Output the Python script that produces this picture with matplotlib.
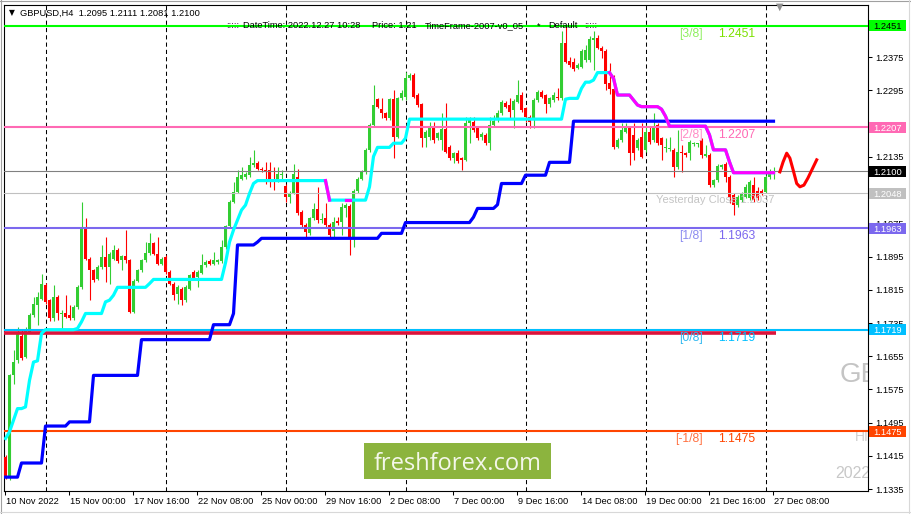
import numpy as np
import matplotlib
matplotlib.use("Agg")
import matplotlib.pyplot as plt
from matplotlib.patches import Rectangle
from matplotlib.lines import Line2D
from matplotlib.transforms import blended_transform_factory, ScaledTranslation

plt.rcParams['font.family'] = ['Liberation Sans', 'DejaVu Sans']

# ---- GBPUSD H4 bars, 10 Nov 2022 08:00 -> 27 Dec 2022 08:00 ----
opens = [
    1.1413, 1.1364, 1.1609, 1.1646, 1.1703, 1.1654, 1.1714, 1.1754, 1.1778, 1.1794,
    1.1826, 1.1790, 1.1746, 1.1798, 1.1756, 1.1758, 1.1754, 1.1746, 1.1774, 1.1822,
    1.1963, 1.1890, 1.1862, 1.1842, 1.1870, 1.1894, 1.1870, 1.1890, 1.1912, 1.1886,
    1.1896, 1.1886, 1.1762, 1.1837, 1.1862, 1.1886, 1.1904, 1.1927, 1.1902, 1.1878,
    1.1894, 1.1858, 1.1830, 1.1806, 1.1818, 1.1790, 1.1818, 1.1858, 1.1845, 1.1856,
    1.1874, 1.1885, 1.1878, 1.1882, 1.1885, 1.1917, 1.1968, 1.2027, 1.2051, 1.2083,
    1.2087, 1.2091, 1.2115, 1.2121, 1.2107, 1.2103, 1.2103, 1.2079, 1.2079, 1.2091,
    1.2065, 1.2038, 1.2049, 1.2087, 1.2003, 1.1971, 1.1951, 1.1987, 1.2009, 1.1983,
    1.1987, 1.1971, 1.1957, 1.1981, 1.1979, 1.2011, 1.2017, 1.1943, 1.2053, 1.2083,
    1.2099, 1.2152, 1.2212, 1.2274, 1.2250, 1.2240, 1.2228, 1.2274, 1.2184, 1.2276,
    1.2280, 1.2324, 1.2332, 1.2284, 1.2262, 1.2180, 1.2184, 1.2206, 1.2180, 1.2176,
    1.2202, 1.2160, 1.2132, 1.2144, 1.2132, 1.2128, 1.2216, 1.2220, 1.2204, 1.2184,
    1.2188, 1.2168, 1.2212, 1.2224, 1.2240, 1.2266, 1.2260, 1.2248, 1.2268, 1.2284,
    1.2252, 1.2232, 1.2228, 1.2272, 1.2292, 1.2283, 1.2262, 1.2272, 1.2280, 1.2276,
    1.2409, 1.2366, 1.2364, 1.2350, 1.2352, 1.2368, 1.2368, 1.2417, 1.2421, 1.2398,
    1.2390, 1.2312, 1.2298, 1.2160, 1.2176, 1.2196, 1.2204, 1.2188, 1.2156, 1.2184,
    1.2152, 1.2196, 1.2176, 1.2212, 1.2180, 1.2156, 1.2154, 1.2152, 1.2111, 1.2148,
    1.2144, 1.2144, 1.2166, 1.2166, 1.2176, 1.2138, 1.2140, 1.2067, 1.2079, 1.2111,
    1.2119, 1.2087, 1.2043, 1.2019, 1.2031, 1.2039, 1.2035, 1.2067, 1.2054, 1.2054,
    1.2051, 1.2087, 1.2095,
]
highs = [
    1.1418, 1.1612, 1.1670, 1.1726, 1.1718, 1.1726, 1.1758, 1.1798, 1.1810, 1.1854,
    1.1832, 1.1794, 1.1826, 1.1802, 1.1766, 1.1802, 1.1778, 1.1778, 1.1826, 1.2027,
    1.1987, 1.1894, 1.1866, 1.1874, 1.1923, 1.1943, 1.1906, 1.1923, 1.1916, 1.1900,
    1.1959, 1.1890, 1.1840, 1.1866, 1.1890, 1.1931, 1.1951, 1.1931, 1.1943, 1.1894,
    1.1898, 1.1862, 1.1834, 1.1826, 1.1822, 1.1826, 1.1854, 1.1862, 1.1862, 1.1902,
    1.1886, 1.1890, 1.1906, 1.1890, 1.1935, 1.1972, 1.2031, 1.2075, 1.2103, 1.2111,
    1.2099, 1.2135, 1.2152, 1.2125, 1.2111, 1.2123, 1.2123, 1.2111, 1.2111, 1.2103,
    1.2069, 1.2053, 1.2119, 1.2107, 1.2007, 1.1975, 1.1991, 1.2023, 1.2063, 1.1999,
    1.2023, 1.1975, 1.1991, 1.1991, 1.2023, 1.2023, 1.2021, 1.2057, 1.2087, 1.2103,
    1.2156, 1.2216, 1.2308, 1.2278, 1.2276, 1.2244, 1.2278, 1.2296, 1.2280, 1.2296,
    1.2340, 1.2336, 1.2336, 1.2288, 1.2266, 1.2200, 1.2220, 1.2220, 1.2196, 1.2240,
    1.2266, 1.2164, 1.2148, 1.2152, 1.2136, 1.2232, 1.2230, 1.2232, 1.2208, 1.2196,
    1.2192, 1.2232, 1.2236, 1.2248, 1.2272, 1.2270, 1.2276, 1.2274, 1.2320, 1.2292,
    1.2256, 1.2236, 1.2276, 1.2296, 1.2296, 1.2286, 1.2280, 1.2292, 1.2300, 1.2437,
    1.2453, 1.2376, 1.2372, 1.2360, 1.2394, 1.2405, 1.2425, 1.2437, 1.2429, 1.2402,
    1.2394, 1.2360, 1.2332, 1.2180, 1.2216, 1.2216, 1.2208, 1.2216, 1.2180, 1.2216,
    1.2212, 1.2208, 1.2240, 1.2216, 1.2184, 1.2180, 1.2184, 1.2156, 1.2200, 1.2164,
    1.2148, 1.2176, 1.2172, 1.2168, 1.2180, 1.2164, 1.2144, 1.2083, 1.2117, 1.2119,
    1.2123, 1.2091, 1.2047, 1.2043, 1.2051, 1.2071, 1.2079, 1.2087, 1.2063, 1.2058,
    1.2091, 1.2105, 1.2111,
]
lows = [
    1.1360, 1.1358, 1.1589, 1.1640, 1.1646, 1.1650, 1.1710, 1.1750, 1.1730, 1.1790,
    1.1780, 1.1740, 1.1740, 1.1742, 1.1718, 1.1746, 1.1742, 1.1742, 1.1770, 1.1818,
    1.1886, 1.1790, 1.1834, 1.1838, 1.1866, 1.1834, 1.1830, 1.1886, 1.1880, 1.1862,
    1.1880, 1.1758, 1.1758, 1.1834, 1.1858, 1.1882, 1.1900, 1.1898, 1.1874, 1.1874,
    1.1854, 1.1826, 1.1790, 1.1782, 1.1778, 1.1786, 1.1814, 1.1838, 1.1822, 1.1852,
    1.1870, 1.1874, 1.1874, 1.1878, 1.1880, 1.1913, 1.1964, 1.2023, 1.2047, 1.2079,
    1.2083, 1.2087, 1.2111, 1.2103, 1.2099, 1.2071, 1.2063, 1.2055, 1.2075, 1.2079,
    1.2027, 1.2023, 1.2045, 1.1995, 1.1965, 1.1943, 1.1947, 1.1983, 1.1975, 1.1975,
    1.1967, 1.1943, 1.1941, 1.1970, 1.1947, 1.1991, 1.1899, 1.1919, 1.2049, 1.2079,
    1.2095, 1.2148, 1.2208, 1.2252, 1.2228, 1.2224, 1.2224, 1.2132, 1.2180, 1.2272,
    1.2272, 1.2320, 1.2276, 1.2256, 1.2160, 1.2160, 1.2176, 1.2168, 1.2176, 1.2152,
    1.2144, 1.2128, 1.2120, 1.2120, 1.2104, 1.2124, 1.2168, 1.2196, 1.2176, 1.2176,
    1.2164, 1.2152, 1.2208, 1.2220, 1.2236, 1.2252, 1.2228, 1.2204, 1.2264, 1.2244,
    1.2220, 1.2204, 1.2204, 1.2268, 1.2276, 1.2240, 1.2256, 1.2268, 1.2272, 1.2272,
    1.2360, 1.2352, 1.2343, 1.2346, 1.2348, 1.2364, 1.2364, 1.2344, 1.2394, 1.2374,
    1.2295, 1.2287, 1.2154, 1.2156, 1.2172, 1.2192, 1.2115, 1.2127, 1.2152, 1.2132,
    1.2148, 1.2166, 1.2172, 1.2164, 1.2127, 1.2148, 1.2150, 1.2087, 1.2107, 1.2099,
    1.2136, 1.2127, 1.2162, 1.2160, 1.2132, 1.2134, 1.2063, 1.2063, 1.2075, 1.2107,
    1.2075, 1.2023, 1.1995, 1.2015, 1.2027, 1.2035, 1.2031, 1.2027, 1.2031, 1.2043,
    1.2047, 1.2083, 1.2081,
]
closes = [
    1.1364, 1.1609, 1.1641, 1.1710, 1.1650, 1.1718, 1.1754, 1.1782, 1.1798, 1.1830,
    1.1786, 1.1746, 1.1798, 1.1758, 1.1757, 1.1750, 1.1746, 1.1774, 1.1822, 1.1963,
    1.1890, 1.1862, 1.1838, 1.1870, 1.1894, 1.1870, 1.1902, 1.1912, 1.1885, 1.1896,
    1.1886, 1.1762, 1.1837, 1.1862, 1.1886, 1.1904, 1.1927, 1.1902, 1.1878, 1.1890,
    1.1858, 1.1830, 1.1802, 1.1822, 1.1790, 1.1822, 1.1850, 1.1842, 1.1858, 1.1874,
    1.1882, 1.1878, 1.1886, 1.1886, 1.1917, 1.1968, 1.2027, 1.2051, 1.2087, 1.2091,
    1.2095, 1.2115, 1.2121, 1.2107, 1.2103, 1.2099, 1.2079, 1.2075, 1.2095, 1.2092,
    1.2038, 1.2049, 1.2095, 1.1999, 1.1971, 1.1955, 1.1987, 1.2009, 1.1983, 1.1985,
    1.1971, 1.1947, 1.1979, 1.1975, 1.2015, 1.2019, 1.1943, 1.2053, 1.2083, 1.2099,
    1.2152, 1.2212, 1.2260, 1.2256, 1.2240, 1.2228, 1.2274, 1.2184, 1.2276, 1.2288,
    1.2324, 1.2332, 1.2280, 1.2260, 1.2180, 1.2196, 1.2208, 1.2176, 1.2192, 1.2202,
    1.2148, 1.2132, 1.2144, 1.2124, 1.2128, 1.2216, 1.2226, 1.2200, 1.2180, 1.2190,
    1.2168, 1.2212, 1.2222, 1.2240, 1.2268, 1.2256, 1.2243, 1.2270, 1.2284, 1.2248,
    1.2232, 1.2220, 1.2272, 1.2292, 1.2280, 1.2262, 1.2276, 1.2283, 1.2276, 1.2409,
    1.2364, 1.2356, 1.2347, 1.2356, 1.2390, 1.2393, 1.2419, 1.2421, 1.2398, 1.2390,
    1.2310, 1.2298, 1.2158, 1.2176, 1.2200, 1.2204, 1.2144, 1.2144, 1.2176, 1.2136,
    1.2196, 1.2170, 1.2208, 1.2168, 1.2164, 1.2160, 1.2157, 1.2111, 1.2148, 1.2144,
    1.2140, 1.2172, 1.2168, 1.2167, 1.2140, 1.2141, 1.2067, 1.2079, 1.2113, 1.2115,
    1.2087, 1.2039, 1.2019, 1.2039, 1.2047, 1.2063, 1.2075, 1.2031, 1.2035, 1.2047,
    1.2087, 1.2099, 1.2100,
]

# fast trailing line (cyan in uptrend, magenta in downtrend)
trail = [
    1.1457, 1.1473, 1.1501, 1.1529, 1.1529, 1.1533, 1.1597, 1.1641, 1.1644, 1.1710,
    1.1719, 1.1719, 1.1719, 1.1719, 1.1719, 1.1719, 1.1719, 1.1719, 1.1722, 1.1738,
    1.1758, 1.1758, 1.1758, 1.1758, 1.1758, 1.1786, 1.1790, 1.1802, 1.1821, 1.1821,
    1.1821, 1.1821, 1.1821, 1.1821, 1.1821, 1.1821, 1.1830, 1.1840, 1.1840, 1.1840,
    1.1840, 1.1840, 1.1840, 1.1840, 1.1840, 1.1840, 1.1840, 1.1840, 1.1840, 1.1840,
    1.1840, 1.1840, 1.1840, 1.1840, 1.1840, 1.1880, 1.1930, 1.1959, 1.1983, 1.2007,
    1.2019, 1.2047, 1.2071, 1.2078, 1.2078, 1.2078, 1.2078, 1.2078, 1.2078, 1.2078,
    1.2078, 1.2078, 1.2078, 1.2078, 1.2078, 1.2078, 1.2078, 1.2078, 1.2078, 1.2078,
    1.2078, 1.2031, 1.2031, 1.2031, 1.2031, 1.2031, 1.2031, 1.2031, 1.2031, 1.2031,
    1.2031, 1.2063, 1.2136, 1.2158, 1.2158, 1.2158, 1.2158, 1.2168, 1.2168, 1.2168,
    1.2180, 1.2226, 1.2226, 1.2226, 1.2226, 1.2226, 1.2226, 1.2226, 1.2226, 1.2226,
    1.2226, 1.2226, 1.2226, 1.2226, 1.2226, 1.2226, 1.2226, 1.2226, 1.2226, 1.2226,
    1.2226, 1.2226, 1.2226, 1.2226, 1.2226, 1.2226, 1.2226, 1.2226, 1.2226, 1.2226,
    1.2226, 1.2226, 1.2226, 1.2226, 1.2226, 1.2226, 1.2226, 1.2226, 1.2226, 1.2226,
    1.2274, 1.2276, 1.2276, 1.2276, 1.2300, 1.2315, 1.2315, 1.2320, 1.2338, 1.2338,
    1.2338, 1.2338, 1.2324, 1.2284, 1.2284, 1.2284, 1.2284, 1.2272, 1.2260, 1.2256,
    1.2256, 1.2256, 1.2256, 1.2256, 1.2250, 1.2233, 1.2209, 1.2209, 1.2209, 1.2209,
    1.2209, 1.2209, 1.2209, 1.2209, 1.2209, 1.2209, 1.2188, 1.2152, 1.2152, 1.2152,
    1.2152, 1.2123, 1.2097, 1.2097, 1.2097, 1.2097, 1.2097, 1.2097, 1.2097, 1.2097,
    1.2097, 1.2097, 1.2097,
]
trail_down_spans = [(80, 81), (85, 86), (151, 192)]

# slow trailing line (blue)
slow_trail = [
    1.1364, 1.1364, 1.1364, 1.1364, 1.1398, 1.1398, 1.1398, 1.1398, 1.1398, 1.1398,
    1.1487, 1.1487, 1.1487, 1.1487, 1.1487, 1.1487, 1.1497, 1.1497, 1.1497, 1.1497,
    1.1497, 1.1497, 1.1609, 1.1609, 1.1609, 1.1609, 1.1609, 1.1609, 1.1609, 1.1609,
    1.1609, 1.1609, 1.1609, 1.1609, 1.1695, 1.1695, 1.1695, 1.1695, 1.1695, 1.1695,
    1.1695, 1.1695, 1.1695, 1.1695, 1.1695, 1.1695, 1.1695, 1.1695, 1.1695, 1.1695,
    1.1695, 1.1695, 1.1731, 1.1731, 1.1731, 1.1731, 1.1731, 1.1758, 1.1923, 1.1923,
    1.1923, 1.1923, 1.1923, 1.1930, 1.1939, 1.1939, 1.1939, 1.1939, 1.1939, 1.1939,
    1.1939, 1.1939, 1.1939, 1.1939, 1.1939, 1.1939, 1.1939, 1.1939, 1.1939, 1.1939,
    1.1939, 1.1939, 1.1939, 1.1939, 1.1939, 1.1939, 1.1939, 1.1939, 1.1939, 1.1939,
    1.1939, 1.1939, 1.1939, 1.1939, 1.1951, 1.1951, 1.1951, 1.1951, 1.1951, 1.1951,
    1.1977, 1.1977, 1.1977, 1.1977, 1.1977, 1.1977, 1.1977, 1.1977, 1.1977, 1.1977,
    1.1977, 1.1977, 1.1977, 1.1977, 1.1977, 1.1977, 1.1977, 1.1990, 1.2011, 1.2011,
    1.2011, 1.2011, 1.2011, 1.2020, 1.2071, 1.2071, 1.2071, 1.2071, 1.2071, 1.2071,
    1.2091, 1.2091, 1.2091, 1.2091, 1.2091, 1.2091, 1.2122, 1.2122, 1.2122, 1.2122,
    1.2122, 1.2122, 1.2221, 1.2221, 1.2221, 1.2221, 1.2221, 1.2221, 1.2221, 1.2221,
    1.2221, 1.2221, 1.2221, 1.2221, 1.2221, 1.2221, 1.2221, 1.2221, 1.2221, 1.2221,
    1.2221, 1.2221, 1.2221, 1.2221, 1.2221, 1.2221, 1.2221, 1.2221, 1.2221, 1.2221,
    1.2221, 1.2221, 1.2221, 1.2221, 1.2221, 1.2221, 1.2221, 1.2221, 1.2221, 1.2221,
    1.2221, 1.2221, 1.2221, 1.2221, 1.2221, 1.2221, 1.2221, 1.2221, 1.2221, 1.2221,
    1.2221, 1.2221, 1.2221,
]

# projected wave after the last bar
wave_x = [193.6, 194.4, 195.3, 196.1, 196.9, 197.8, 198.6, 199.6, 200.6, 201.6, 202.8]
wave_y = [1.2099, 1.2123, 1.2144, 1.2132, 1.2104, 1.2071, 1.2063, 1.2067, 1.2084, 1.2104, 1.2128]

# Murrey levels
level_names = ['[3/8]', '[2/8]', '[1/8]', '[0/8]', '[-1/8]']
level_prices = [1.2451, 1.2207, 1.1963, 1.1719, 1.1475]
level_colors = ['#00FF00', '#FF69B4', '#7B68EE', '#00BFFF', '#FF4500']
level_name_colors = ['#8FEF60', '#FF8CC6', '#8C8CF0', '#30B8F0', '#FF7040']
level_text_colors = ['#7CE000', '#FF69B4', '#7B68EE', '#00BFFF', '#FF4500']
crimson_level = 1.1710
current_price = 1.2100
yesterday_close_line = 1.2048

price_ticks = [1.1335, 1.1415, 1.1495, 1.1575, 1.1655, 1.1735, 1.1815, 1.1895,
               1.1975, 1.2055, 1.2135, 1.2215, 1.2295, 1.2375, 1.2455]
hidden_tick_labels = [1.2055, 1.2215, 1.2455]   # fully covered by the price boxes
date_tick_bars = [0, 16, 32, 48, 64, 80, 96, 112, 128, 144, 160, 176, 192]
date_tick_labels = ['10 Nov 2022', '15 Nov 00:00', '17 Nov 16:00', '22 Nov 08:00',
                    '25 Nov 00:00', '29 Nov 16:00', '2 Dec 08:00', '7 Dec 00:00',
                    '9 Dec 16:00', '14 Dec 08:00', '19 Dec 00:00', '21 Dec 16:00',
                    '27 Dec 08:00']
week_start_bars = [10, 40, 70, 100, 130, 160, 190]

# ---- figure ----
W, H = 911, 514
fig = plt.figure(figsize=(W / 100, H / 100), dpi=100)
fig.patch.set_facecolor('white')
ax = fig.add_axes([4 / W, 1 - 491 / H, 864 / W, (491 - 4.5) / H])
ax.set_xlim(-0.375, 215.625)
ax.set_ylim(1.13306, 1.25020)

def px_to_bar(px):
    return (px - 5.5) / 4.0

idx = np.arange(len(closes))
o = np.array(opens); c = np.array(closes)
hi = np.array(highs); lo = np.array(lows)
up = c >= o
col = np.where(up, '#32CD32', '#FF0000')

# week separators
for b in week_start_bars:
    ax.axvline(b, color='black', lw=0.75, ls=(0, (4, 3)), zorder=1)

# candles
ax.vlines(idx, lo, hi, colors=col, lw=0.8, zorder=3)
body_h = np.maximum(np.abs(c - o), 0.00026)
ax.bar(idx, body_h, bottom=np.minimum(o, c), width=0.75, color=col, lw=0, zorder=3)

# horizontal levels
for p, lc in zip(level_prices, level_colors):
    ax.axhline(p, color=lc, lw=1.5, zorder=4)
ax.axhline(current_price, color='#808080', lw=0.8, zorder=4)
ax.axhline(yesterday_close_line, color='#C0C0C0', lw=0.8, zorder=4)
ax.hlines(crimson_level, ax.get_xlim()[0], idx[-1] + 0.5, color='#DC143C', lw=2.6, zorder=4)

# trailing lines
ax.plot(idx, slow_trail, color='#0000FF', lw=2.3, zorder=5)
ax.plot(idx, trail, color='#00FFFF', lw=2.3, zorder=5)
for a, b in trail_down_spans:
    ax.plot(idx[a:b + 1], trail[a:b + 1], color='#FF00FF', lw=2.3, zorder=6)
ax.plot(wave_x, wave_y, color='#FF0000', lw=2.2, zorder=6, clip_on=False)

# level captions
for name, p, nc, tc in zip(level_names, level_prices, level_name_colors, level_text_colors):
    ax.annotate(name, xy=(px_to_bar(703), p), xytext=(0, -5.8), textcoords='offset points',
                ha='right', va='center', fontsize=8.7, color=nc, zorder=7)
    ax.annotate(f'{p:.4f}', xy=(px_to_bar(718), p), xytext=(0, -5.8), textcoords='offset points',
                ha='left', va='center', fontsize=8.7, color=tc, zorder=7)
ax.annotate('Yesterday Close 1.2037', xy=(px_to_bar(656), yesterday_close_line), xytext=(0, -5.2),
            textcoords='offset points', ha='left', va='center', fontsize=8, color='#C4C4C4', zorder=7)

# watermark (clipped by the price axis)
ax.text(px_to_bar(840), 1.1610, 'GBPUSD,H4', fontsize=20, color='#C4C4C4', va='center', ha='left',
        zorder=0.5, clip_on=True)
ax.text(px_to_bar(855), 1.1461, 'HI', fontsize=10, color='#D0D0D0', va='center', ha='left',
        zorder=0.5, clip_on=True)
ax.text(px_to_bar(835), 1.1372, '2022.12.27', fontsize=11.5, color='#C8C8C8', va='center', ha='left',
        zorder=0.5, clip_on=True)

# axes styling
for s in ax.spines.values():
    s.set_color('black'); s.set_linewidth(0.8)
ax.yaxis.tick_right()
ax.set_yticks(price_ticks, ['' if t in hidden_tick_labels else f'{t:.4f}' for t in price_ticks])
ax.tick_params(axis='y', direction='out', length=3, width=0.75, pad=2.5, labelsize=6.7, colors='black')
ax.set_xticks(np.array(date_tick_bars) - 0.125, date_tick_labels)
ax.tick_params(axis='x', direction='out', length=3, width=0.75, pad=1.5, labelsize=6.7, colors='black')
shift = ScaledTranslation(1.5 / 100, 0, fig.dpi_scale_trans)
for lab in ax.get_xticklabels():
    lab.set_ha('left')
    lab.set_transform(lab.get_transform() + shift)

# price boxes on the right axis
blend = blended_transform_factory(fig.transFigure, ax.transData)
box_h = 11 * (1.25020 - 1.13306) / 486.5
boxes = [(level_prices[0], '#00FF00', 'black'), (level_prices[1], '#FF69B4', 'white'),
         (current_price, 'black', 'white'), (yesterday_close_line, '#C0C0C0', 'white'),
         (level_prices[2], '#7B68EE', 'white'), (level_prices[3], '#00BFFF', 'white'),
         (level_prices[4], '#FF4500', 'white')]
for p, bg, fg in boxes:
    fig.add_artist(Rectangle((869 / W, p - box_h / 2), 37 / W, box_h, transform=blend,
                             facecolor=bg, edgecolor='none', zorder=10))
    fig.text(887.5 / W, p, f'{p:.4f}', transform=blend, ha='center', va='center_baseline',
             fontsize=6.7, color=fg, zorder=11)

# header lines
fig.text(9 / W, 1 - 13 / H, '\u25bc', family='DejaVu Sans', fontsize=5.5, va='center', color='black')
fig.text(20 / W, 1 - 13 / H, 'GBPUSD,H4  1.2095 1.2111 1.2081 1.2100', fontsize=6.7, va='center', color='black')
fig.text(226 / W, 1 - 26 / H, ':::::', fontsize=6.7, va='center', color='#400040', zorder=12)
fig.text(243 / W, 1 - 26 / H, 'DateTime: 2022.12.27 10:28', fontsize=6.7, va='center', color='black', zorder=12)
fig.text(372 / W, 1 - 26 / H, 'Price: 1.21', fontsize=6.7, va='center', color='black', zorder=12)
fig.text(425 / W, 1 - 26 / H, 'TimeFrame-2007-v0_05', fontsize=6.7, va='center', color='black', zorder=12)
fig.text(537 / W, 1 - 26 / H, '*', fontsize=6.7, va='center', color='black', zorder=12)
fig.text(548 / W, 1 - 26 / H, 'Default', fontsize=6.7, va='center', color='black', zorder=12)
fig.text(584 / W, 1 - 26 / H, ':::::', fontsize=6.7, va='center', color='#400040', zorder=12)
fig.text(780 / W, 1 - 7 / H, '\u25bc', family='DejaVu Sans', fontsize=7, ha='center', va='center', color='#909090')

# freshforex badge
fig.add_artist(Rectangle((364 / W, 1 - 479 / H), 187 / W, 36 / H, transform=fig.transFigure,
                         facecolor='#8CB43E', edgecolor='none', zorder=20))
fig.text(457.5 / W, 1 - 470 / H, 'freshforex.com', family='Open Sans', fontsize=17,
         color='#F4F7EA', ha='center', va='baseline', zorder=21)

# window frame
fig.add_artist(Line2D([0, 1], [1 - 0.5 / H] * 2, color='#A0A0A0', lw=0.8, transform=fig.transFigure))
fig.add_artist(Line2D([0.5 / W] * 2, [0, 1], color='#A0A0A0', lw=0.8, transform=fig.transFigure))
fig.add_artist(Line2D([0, 1], [1 - 511.5 / H] * 2, color='#D8D8D8', lw=0.8, transform=fig.transFigure))
fig.add_artist(Line2D([908.5 / W] * 2, [0, 1], color='#D8D8D8', lw=0.8, transform=fig.transFigure))

fig.savefig('out.png', dpi=100)
